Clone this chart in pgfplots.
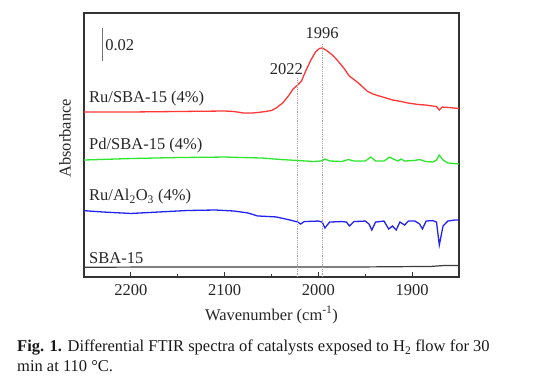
\documentclass[border=0pt]{standalone}
\usepackage{fontspec}
\setmainfont{Liberation Serif}
\usepackage{pgfplots}
\pgfplotsset{compat=1.18}
\definecolor{cred}{RGB}{255,55,55}
\definecolor{cgreen}{RGB}{45,230,45}
\definecolor{cblue}{RGB}{35,35,240}
\definecolor{cblack}{RGB}{60,60,60}
\begin{document}
\begin{tikzpicture}[x=1pt,y=1pt]
\useasboundingbox (0,0) rectangle (554,380);
\begin{axis}[
  at={(84pt,103pt)}, anchor=south west,
  scale only axis, width=375pt, height=264pt,
  x dir=reverse, xmin=1850, xmax=2250, ymin=0, ymax=0.16,
  xtick={1900,2000,2100,2200}, minor xtick={1950,2050,2150},
  ytick=\empty,
  tick align=inside, xtick pos=bottom,
  major tick length=5pt, minor tick length=3pt,
  axis line style={line width=1.3pt, black!80},
  tick style={line width=1pt, black!80},
  tick label style={font=\fontsize{16.5}{18}\selectfont, black!85},
  xticklabel style={yshift=-4pt},
  /pgf/number format/assume math mode=true,
  /pgf/number format/set thousands separator={},
  xlabel={Wavenumber (cm\textsuperscript{-1})},
  ylabel={Absorbance},
  label style={font=\fontsize{16.5}{18}\selectfont, black!85},
  xlabel style={at={(axis description cs:0.5,-0.144)}, anchor=center},
  ylabel style={at={(axis description cs:-0.051,0.525)}, anchor=center},
  clip=false,
]
% Ru/SBA-15
\addplot[cred, line width=1.3pt] coordinates {
(2250,0.1000) (2200,0.1000) (2150,0.1003) (2100,0.1006) (2090,0.1003)
(2080,0.0994) (2070,0.0994) (2060,0.1000) (2050,0.1009) (2045,0.1024)
(2038,0.1055) (2032,0.1097) (2027,0.1139) (2022,0.1164) (2018,0.1188)
(2013,0.1255) (2008,0.1315) (2003,0.1364) (1999,0.1385) (1996,0.1388)
(1992,0.1376) (1985,0.1345) (1980,0.1315) (1973,0.1267) (1967,0.1218)
(1960,0.1188) (1955,0.1164) (1948,0.1127) (1942,0.1109) (1935,0.1097)
(1928,0.1085) (1921,0.1073) (1912,0.1064) (1905,0.1055) (1893,0.1045)
(1885,0.1042) (1878,0.1036) (1874,0.1033) (1871,0.1012) (1868,0.1030)
(1860,0.1027) (1852,0.1022) (1850,0.1022)
};
% Pd/SBA-15
\addplot[cgreen, line width=1.3pt] coordinates {
(2250,0.0709) (2200,0.0718) (2150,0.0724) (2100,0.0727) (2060,0.0721)
(2040,0.0712) (2022,0.0706) (2005,0.0700) (1997,0.0703) (1993,0.0715)
(1988,0.0703) (1975,0.0700) (1968,0.0712) (1962,0.0703) (1950,0.0703)
(1944,0.0727) (1939,0.0703) (1930,0.0703) (1924,0.0727) (1919,0.0712)
(1915,0.0703) (1912,0.0715) (1908,0.0703) (1898,0.0706) (1892,0.0712)
(1886,0.0700) (1878,0.0697) (1874,0.0709) (1871,0.0739) (1867,0.0709)
(1862,0.0691) (1850,0.0685)
};
% Ru/Al2O3
\addplot[cblue, line width=1.3pt] coordinates {
(2250,0.0402) (2230,0.0394) (2200,0.0385) (2170,0.0394) (2140,0.0403)
(2110,0.0406) (2090,0.0400) (2075,0.0388) (2065,0.0370) (2045,0.0364)
(2030,0.0345) (2022,0.0333) (2019,0.0321) (2015,0.0336) (2000,0.0339)
(1996,0.0333) (1993,0.0297) (1988,0.0333) (1975,0.0336) (1970,0.0333)
(1967,0.0309) (1962,0.0336) (1950,0.0339) (1946,0.0321) (1943,0.0285)
(1939,0.0333) (1930,0.0339) (1925,0.0291) (1921,0.0309) (1917,0.0285)
(1913,0.0333) (1908,0.0315) (1904,0.0339) (1897,0.0339) (1892,0.0321)
(1889,0.0291) (1885,0.0339) (1878,0.0342) (1874,0.0333) (1871,0.0194)
(1867,0.0309) (1862,0.0339) (1855,0.0345) (1850,0.0345)
};
% SBA-15
\addplot[cblack, line width=1.2pt] coordinates {
(2250,0.0059) (2150,0.0061) (2050,0.0061) (1950,0.0061) (1880,0.0064)
(1865,0.0070) (1850,0.0070)
};
% dotted guide lines
\draw[densely dotted, black!35, line width=0.8pt] (axis cs:2022,0) -- (axis cs:2022,0.1206);
\draw[densely dotted, black!35, line width=0.8pt] (axis cs:1996,0) -- (axis cs:1996,0.1418);
\node[font=\fontsize{16.5}{18}\selectfont, black!85] at (axis cs:1996,0.1479) {1996};
\node[font=\fontsize{16.5}{18}\selectfont, black!85] at (axis cs:2034,0.1261) {2022};
% scale bar
\draw[black!55, line width=1pt] (axis cs:2230,0.1309) -- (axis cs:2230,0.1509);
\node[anchor=west, inner sep=0pt, font=\fontsize{16.5}{18}\selectfont, black!85] at (axis cs:2227.5,0.1406) {0.02};
% series labels
\node[anchor=west, inner sep=0pt, font=\fontsize{16.5}{18}\selectfont, black!85] at (axis cs:2244.7,0.1079) {Ru/SBA-15 (4\%)};
\node[anchor=west, inner sep=0pt, font=\fontsize{16.5}{18}\selectfont, black!85] at (axis cs:2244.7,0.0794) {Pd/SBA-15 (4\%)};
\node[anchor=west, inner sep=0pt, font=\fontsize{16.5}{18}\selectfont, black!85] at (axis cs:2244.7,0.0485) {Ru/Al\textsubscript{2}O\textsubscript{3} (4\%)};
\node[anchor=west, inner sep=0pt, font=\fontsize{16.5}{18}\selectfont, black!85] at (axis cs:2244.7,0.0115) {SBA-15};
\end{axis}
\node[anchor=base west, inner sep=0pt, font=\fontsize{16.5}{19}\selectfont, black!90] at (17,28) {\textbf{Fig. 1.} Differential FTIR spectra of catalysts exposed to H\textsubscript{2} flow for 30};
\node[anchor=base west, inner sep=0pt, font=\fontsize{16.5}{19}\selectfont, black!90] at (17,9) {min at 110 °C.};
\end{tikzpicture}
\end{document}
